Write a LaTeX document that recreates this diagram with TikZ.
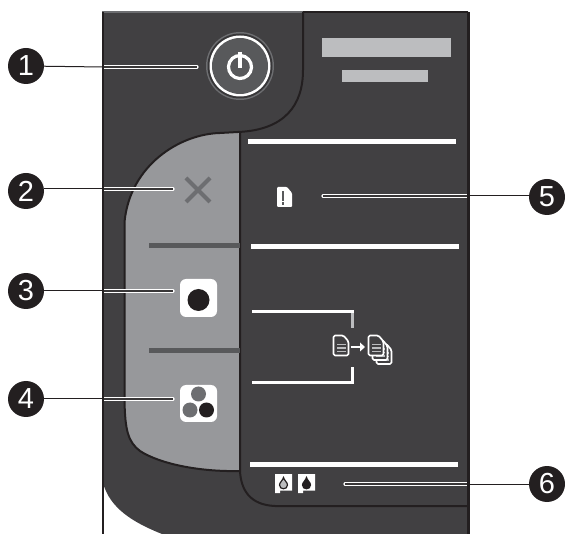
\documentclass[tikz,border=0pt]{standalone}
\usepackage{fontspec}
\setmainfont{Liberation Sans}
\definecolor{panel}{HTML}{414042}
\definecolor{ink}{HTML}{231F20}
\definecolor{btn}{HTML}{97989B}
\definecolor{divider}{HTML}{58595B}
\definecolor{midgray}{HTML}{6D6E71}
\definecolor{lblgray}{HTML}{BCBDBF}
\tikzset{
  numdot/.style={circle,fill=ink,text=white,minimum size=36pt,inner sep=0pt,font=\fontsize{29}{29}\selectfont},
  leader/.style={draw=ink,line width=1pt},
  halo/.style={draw=white,line width=3.2pt,line cap=round},
  core/.style={draw=ink!70!midgray,line width=1.2pt},
  outline/.style={draw=ink,line width=2pt},
  whitebar/.style={fill=white},
  pics/page/.style={code={
    \draw[draw=white,fill=panel,line width=1.7pt,line join=round,rounded corners=1.5pt] (0,0) -- (10,0) -- (15,6) -- (15,20) -- (0,20) -- cycle;
    \fill[lblgray] (3,8.5) rectangle (12,10);
    \fill[lblgray] (3,12) rectangle (12,13.5);
    \fill[lblgray] (3,15.5) rectangle (12,17);
  }},
  pics/inkbox/.style={code={
    \fill[white] (0,0) -- (17,0) -- (17,16.5) -- (5,16.5) -- (5,19) -- (0,19) -- cycle;
    \filldraw[draw=ink,line width=1.2pt,fill=#1] (8.5,3.5) .. controls (9,6) and (12.5,8.5) .. (12.5,11) .. controls (12.5,16) and (4.5,16) .. (4.5,11) .. controls (4.5,8.5) and (8,6) .. (8.5,3.5) -- cycle;
  }}
}
\begin{document}
\begin{tikzpicture}[x=1pt,y=-1pt]
\useasboundingbox (0,0) rectangle (565,534);
% body
\fill[panel] (102,12) -- (469,12) -- (469,534) -- (162,534) .. controls (132,522) and (110,508) .. (103,483) -- cycle;
\draw[draw=midgray,line width=1.5pt] (102,12) -- (303,12);
\draw[outline] (303,12) -- (468,12);
% grey button strip
\fill[btn] (240,132) -- (220,133) .. controls (180,134) and (130,165) .. (124.5,222) -- (124.5,400) .. controls (125,430) and (128,442) .. (140,451) .. controls (160,464) and (200,472) .. (240,471) -- cycle;
\draw[outline] (238,132) -- (220,133) .. controls (180,134) and (130,165) .. (124.5,222) -- (124.5,400) .. controls (125,430) and (128,442) .. (140,451) .. controls (160,464) and (200,472) .. (240,471);
\draw[outline] (303,12) -- (303,70) .. controls (303,105) and (285,130) .. (238,132);
\draw[outline] (240,132) -- (240,471) .. controls (241,490) and (250,505) .. (275,506) -- (468,506);
\fill[divider] (149,243) rectangle (240,248);
\fill[divider] (149,348) rectangle (240,353);
% labels
\fill[lblgray] (322,38) rectangle (451,57);
\fill[lblgray] (342,70) rectangle (428,82);
% white bars
\fill[whitebar] (248,139) rectangle (456,144);
\fill[whitebar] (251,244) rectangle (459,249);
\fill[whitebar] (250,462) rectangle (458,467);
\fill[whitebar] (252,310) rectangle (354,313);
\fill[lblgray] (351,313) rectangle (354,328);
\fill[whitebar] (252,381) rectangle (354,384);
\fill[whitebar] (351,367) rectangle (354,384);
% power button
\fill[midgray] (240,66) circle[radius=34pt];
\fill[panel!85!black] (240,66) circle[radius=32.5pt];
\fill[white] (240,66) circle[radius=30.5pt];
\fill[divider] (240,66) circle[radius=28pt];
\draw[draw=white,line width=3.2pt] (240,67) ++(65:11.5pt) arc[start angle=65,end angle=475,radius=11.5pt];
\draw[draw=white,line width=4.5pt] (240,52) -- (240,68);
% X icon
\draw[draw=midgray,line width=4pt] (186,178) -- (210,202);
\draw[draw=midgray,line width=4pt] (210,178) -- (186,202);
% start buttons
\fill[white,rounded corners=6pt] (180,279) rectangle (217,317);
\fill[ink] (198.5,300) circle[radius=11pt];
\fill[white,rounded corners=6pt] (180,385) rectangle (217,422);
\fill[midgray] (198.5,394) circle[radius=7.5pt];
\fill[midgray] (190,410) circle[radius=7.5pt];
\fill[ink] (206.5,410) circle[radius=7.5pt];
% alert icon
\fill[white,rounded corners=1pt] (277,187) -- (287,187) -- (292,193) -- (292,207) -- (277,207) -- cycle;
\fill[divider] (281.5,191) rectangle (283.5,201);
\fill[divider] (281.5,202.5) rectangle (283.5,205);
% copy icons
\pic at (376.5,344) {page};
\pic at (372.5,340) {page};
\pic at (368.5,335.5) {page};
\pic at (333.5,335.5) {page};
\draw[draw=white,line width=1.5pt] (350.5,347) -- (361,347);
\fill[white] (360,342.5) -- (365,347) -- (360,351.5) -- cycle;
% ink icons
\pic at (275,474) {inkbox=lblgray};
\pic at (298,474) {inkbox=ink};
% number dots
\node[numdot] (n1) at (26,66) {1};
\node[numdot] (n2) at (26,191) {2};
\node[numdot] (n3) at (26,291) {3};
\node[numdot] (n4) at (26,399) {4};
\node[numdot] (n5) at (547,197) {5};
\node[numdot] (n6) at (547,484) {6};
% leader ends
\coordinate (e1) at (197,67);
\coordinate (e2) at (173,189);
\coordinate (e3) at (173,291);
\coordinate (e4) at (173,399);
\coordinate (e5) at (323,196);
\coordinate (e6) at (345,484);
\coordinate (p1) at (103,67);
\coordinate (p2) at (103,189);
\coordinate (p3) at (103,291);
\coordinate (p4) at (103,399);
\coordinate (p5) at (468,196);
\coordinate (p6) at (468,484);
\foreach \i in {1,...,6}{
  \draw[halo] (p\i) -- (e\i);
  \draw[core] (p\i) -- (e\i);
}
\draw[leader] (n1) -- (p1);
\draw[leader] (n2.east |- p2) -- (p2);
\draw[leader] (n3) -- (p3);
\draw[leader] (n4) -- (p4);
\draw[leader] (n5.west |- p5) -- (p5);
\draw[leader] (n6) -- (p6);
\draw[draw=ink,line width=2.5pt] (468.5,12) -- (468.5,534);
\draw[draw=ink,line width=2pt] (102.5,12) -- (102.5,534);
\end{tikzpicture}
\end{document}
